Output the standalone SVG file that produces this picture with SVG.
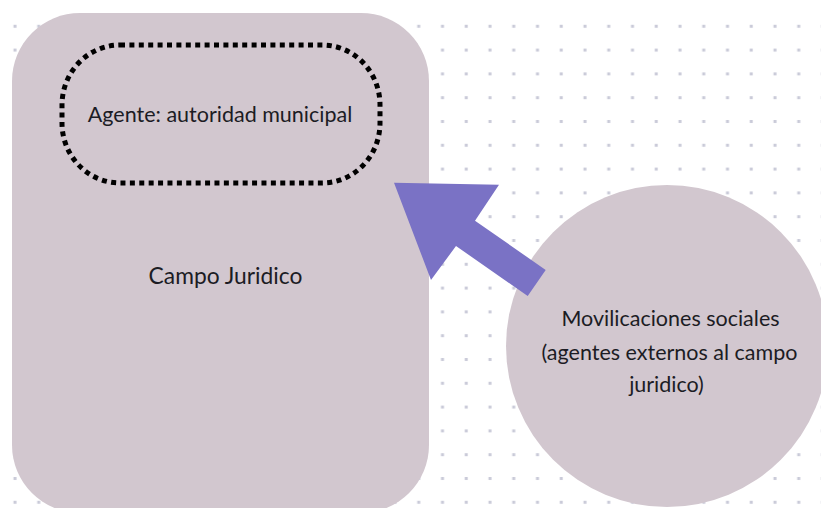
<svg xmlns="http://www.w3.org/2000/svg" width="821" height="508" viewBox="0 0 821 508">
  <style>
    .shape { fill: #d2c7cf; }
    .lbl { font-family: Lato, "Open Sans", "Liberation Sans", sans-serif; font-size: 21.5px; fill: #1c1c24; text-anchor: middle; }
    .dotted { fill: none; stroke: #000000; stroke-width: 5; stroke-dasharray: 5 4.4; }
    .arrow { fill: #7a72c5; }
  </style>
  <defs>
    <pattern id="dots" x="0" y="0" width="23.75" height="23.8" patternUnits="userSpaceOnUse">
      <rect x="13.5" y="1" width="3" height="3" fill="#c9cad8"/>
    </pattern>
  </defs>
  <rect width="821" height="508" fill="#ffffff"/>
  <rect x="8" y="20" width="813" height="488" fill="url(#dots)"/>

  <g id="campo-juridico">
    <rect class="shape" x="12" y="13" width="417" height="500" rx="68" ry="68"/>
    <text class="lbl" x="225.5" y="284" style="font-size:22.8px">Campo Juridico</text>
  </g>

  <g id="agente">
    <rect class="dotted" x="62" y="45" width="318" height="138" rx="58" ry="60"/>
    <text class="lbl" x="220" y="121.5">Agente: autoridad municipal</text>
  </g>

  <g id="movilizaciones">
    <circle class="shape" cx="667" cy="346" r="161"/>
    <text class="lbl" x="670.5" y="326">Movilicaciones sociales</text>
    <text class="lbl" x="669.5" y="359.5">(agentes externos al campo</text>
    <text class="lbl" x="666.5" y="392">juridico)</text>
  </g>

  <g id="connectors">
    <polygon class="arrow" points="394,182.7 499,184.7 475,220.7 545.7,270 527.7,296 456,246 431,280"/>
  </g>
</svg>
